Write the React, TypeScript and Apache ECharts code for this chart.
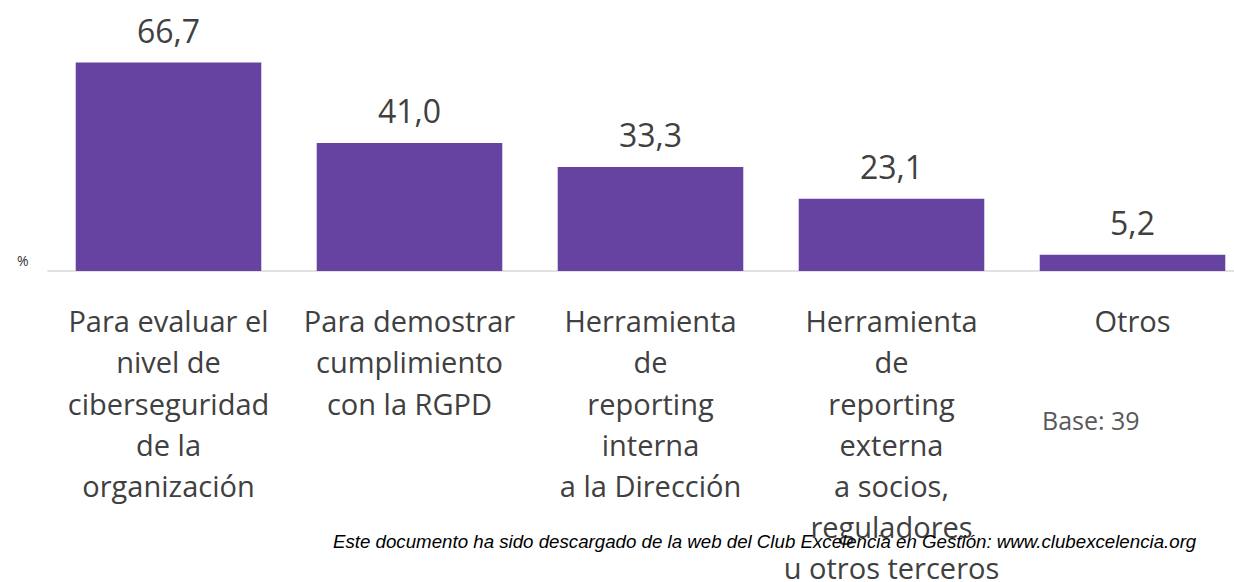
import React, { useEffect, useRef } from "react";
import * as echarts from "echarts";

const categories = [
  "Para evaluar el\nnivel de\nciberseguridad\nde la\norganización",
  "Para demostrar\ncumplimiento\ncon la RGPD",
  "Herramienta\nde\nreporting\ninterna\na la Dirección",
  "Herramienta\nde\nreporting\nexterna\na socios,\nreguladores\nu otros terceros",
  "Otros",
];
const values = [66.7, 41.0, 33.3, 23.1, 5.2];
const unitLabel = "%";
const baseLabel = "Base: 39";
const footerText =
  "Este documento ha sido descargado de la web del Club Excelencia en Gestión: www.clubexcelencia.org";

export default function App() {
  const ref = useRef<HTMLDivElement>(null);
  useEffect(() => {
    if (!ref.current) return;
    const chart = echarts.init(ref.current, null, { renderer: "svg" });
    chart.setOption({
      animation: false,
      grid: { left: 48, width: 1205, top: 21, height: 250, outerBoundsMode: "none", containLabel: false },
      xAxis: {
        type: "category",
        data: categories,
        axisLine: { lineStyle: { color: "#d9d9d9", width: 1.5 } },
        axisTick: { show: false },
        axisLabel: {
          interval: 0,
          color: "#404040",
          fontFamily: "Open Sans",
          fontSize: 29,
          lineHeight: 41.2,
          margin: 29,
          verticalAlign: "top",
        },
      },
      yAxis: {
        type: "value",
        min: 0,
        max: 80,
        show: false,
        splitLine: { show: false },
      },
      series: [
        {
          type: "bar",
          data: values,
          barCategoryGap: "23%",
          itemStyle: { color: "#6643A0" },
          label: {
            show: true,
            position: "top",
            distance: 16,
            color: "#404040",
            fontFamily: "Open Sans",
            fontSize: 32,
            formatter: (p: any) => p.value.toFixed(1).replace(".", ","),
          },
        },
      ],
      graphic: [
        {
          type: "text",
          left: 17,
          top: 253,
          style: { text: unitLabel, fontSize: 14, fill: "#333", fontFamily: "Open Sans" },
        },
        {
          type: "text",
          left: 1042,
          top: 407,
          style: { text: baseLabel, fontSize: 25, fill: "#595959", fontFamily: "Open Sans" },
        },
        {
          type: "text",
          left: 333,
          top: 532,
          z: 100,
          style: {
            text: footerText,
            fontSize: 18.7,
            fontStyle: "italic",
            fill: "#000",
            fontFamily: "Liberation Sans",
          },
        },
      ],
    });
    return () => chart.dispose();
  }, []);
  return (
    <div style={{ position: "absolute", left: 0, top: 0, width: 1234, height: 582, overflow: "hidden" }}>
      <div ref={ref} style={{ width: 1234, height: 582 }} />
    </div>
  );
}
